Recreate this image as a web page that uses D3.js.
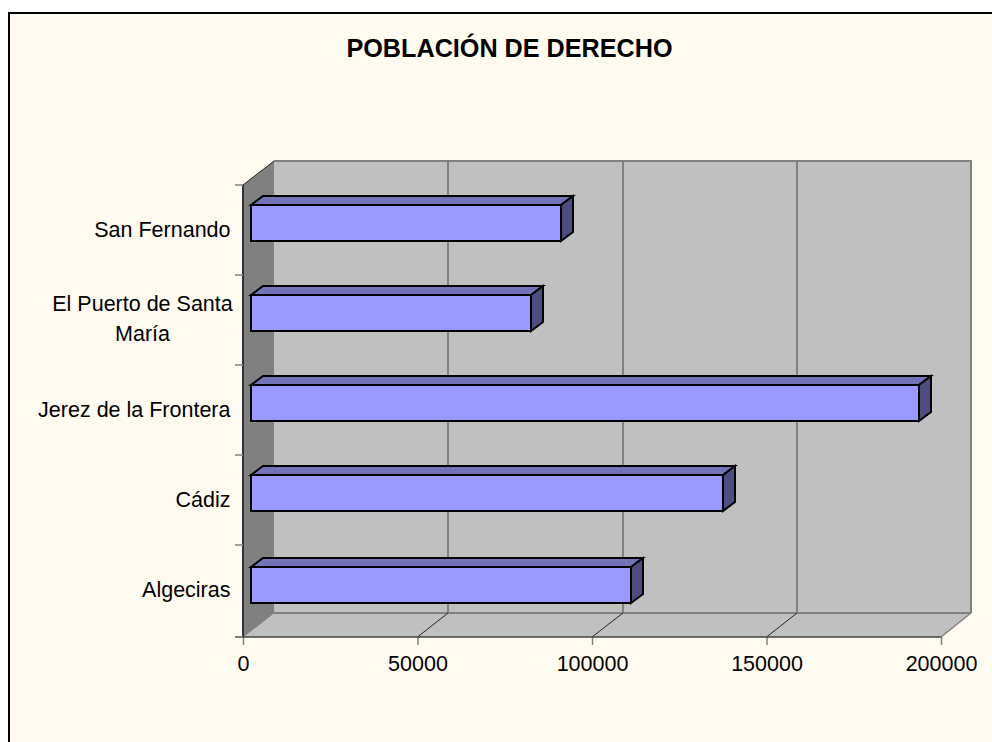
<!DOCTYPE html>
<html><head><meta charset="utf-8">
<style>html,body{margin:0;padding:0;background:#fff}svg{display:block}text{font-family:"Liberation Sans",Arial,sans-serif;fill:#000}</style>
<script src="https://cdn.jsdelivr.net/npm/d3@7"></script></head><body><script>
const categories=["Algeciras","Cádiz","Jerez de la Frontera","El Puerto de Santa María","San Fernando"];
const values=[108900,135300,191500,80300,88900];
const tickValues=[0,50000,100000,150000,200000];
const titleText="POBLACIÓN DE DERECHO";
(function(){
const W=992,H=742,FS=21.5;
const svg=d3.select("body").append("svg").attr("width",W).attr("height",H);
svg.append("rect").attr("x",9).attr("y",13).attr("width",W).attr("height",H).attr("fill","#FFFBF0").attr("stroke","#000").attr("stroke-width",2);
svg.append("text").attr("x",509.5).attr("y",57).attr("text-anchor","middle").attr("font-size",25.2).attr("font-weight","bold").text(titleText);
const x=d3.scaleLinear().domain([0,200000]).range([243,941]);
const xBack=d3.scaleLinear().domain([0,200000]).range([274,971]);
// band edges: index i is the lower edge of category i, i+1 the upper edge
const yEdge=d3.scaleLinear().domain([0,1,5]).range([637,545,185]);
const dy=-24;
const yTop=yEdge(5),bot=yEdge(0),x0=x(0),x1=x(200000);
const poly=(pts,fill,stroke,sw)=>svg.append("polygon").attr("points",pts.map(p=>p.join(",")).join(" ")).attr("fill",fill).attr("stroke",stroke||"none").attr("stroke-width",sw||0);
const line=(a,b,c,d,col,sw)=>svg.append("line").attr("x1",a).attr("y1",b).attr("x2",c).attr("y2",d).attr("stroke",col).attr("stroke-width",sw);
const bx0=xBack(0),bx1=xBack(200000);
poly([[bx0,yTop+dy],[bx1,yTop+dy],[bx1,bot+dy],[bx0,bot+dy]],"#C0C0C0");
poly([[x0,yTop],[bx0,yTop+dy],[bx0,bot+dy],[x0,bot]],"#808080");
poly([[x0,bot],[x1,bot],[bx1,bot+dy],[bx0,bot+dy]],"#C0C0C0");
line(bx0,yTop+dy,bx1+1,yTop+dy,"#808080",2);
line(bx1,yTop+dy,bx1,bot+dy,"#808080",2);
line(bx0,bot+dy,bx1,bot+dy,"#808080",2);
line(bx1,bot+dy,x1,bot,"#808080",1.5);
tickValues.slice(1,-1).forEach(v=>{
  const gx=Math.round(xBack(v));
  line(gx,yTop+dy,gx,bot+dy,"#808080",2);
  line(x(v),bot,gx,bot+dy,"#222",1);
});
line(x0,bot,bx0,bot+dy,"#808080",1);
line(x0,yTop,bx0,yTop+dy,"#222",1);
const xAxis=d3.axisBottom(x).tickValues(tickValues).tickFormat(d3.format("d")).tickSize(8).tickPadding(10.7);
const gx=svg.append("g").attr("transform",`translate(0,${bot})`).call(xAxis);
gx.select(".domain").remove();
gx.selectAll("line").attr("stroke","#808080").attr("stroke-width",1.5);
gx.selectAll("text").attr("font-size",FS);
gx.attr("font-family",null).attr("font-size",null);
line(x0-8,bot,x1,bot,"#444",1.5);
line(x0,yTop,x0,bot,"#333",2);
d3.range(0,6).forEach(i=>line(x0-8,yEdge(i),x0,yEdge(i),"#808080",1.5));
const wrap={"El Puerto de Santa María":["El Puerto de Santa","María"]};
categories.forEach((c,i)=>{
  const up=yEdge(i+1);
  if(wrap[c]){
    wrap[c].forEach((s,j)=>svg.append("text").attr("x",142.5).attr("y",up+36+j*30).attr("text-anchor","middle").attr("font-size",FS).text(s));
  } else svg.append("text").attr("x",230.5).attr("y",up+52).attr("text-anchor","end").attr("font-size",FS).text(c);
});
const off=8, bdx=12, bdy=-9, bh=36, bOffset=34;
categories.forEach((c,i)=>{
  const xl=x(0)+off, xr=Math.round(x(values[i])+off), yb=yEdge(i)-bOffset, yt=yb-bh;
  const k="#000";
  poly([[xl,yt],[xl+bdx,yt+bdy],[xr+bdx,yt+bdy],[xr,yt]],"#7373B8",k,2);
  poly([[xr,yt],[xr+bdx,yt+bdy],[xr+bdx,yb+bdy],[xr,yb]],"#4D4D80",k,2);
  poly([[xl,yt],[xr,yt],[xr,yb],[xl,yb]],"#9999FF",k,2);
});
})();
</script></body></html>
